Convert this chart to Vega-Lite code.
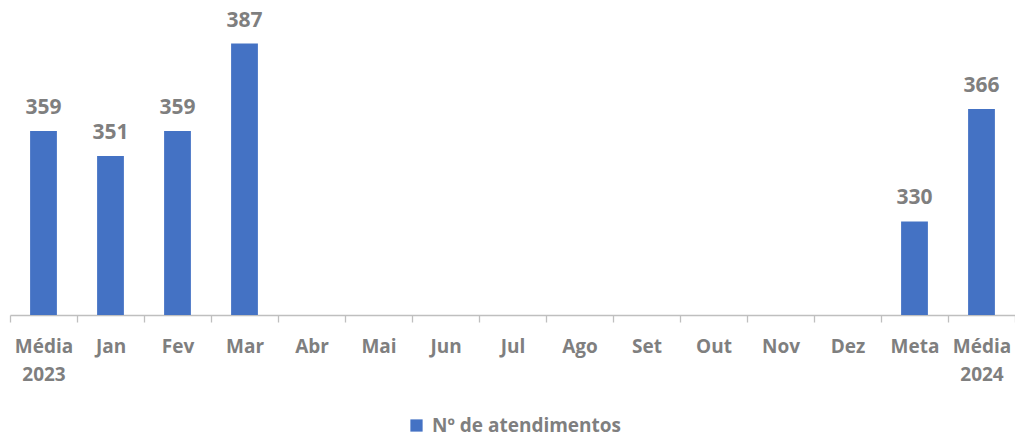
{
  "$schema": "https://vega.github.io/schema/vega-lite/v6.json",
  "width": 1005,
  "height": 312,
  "padding": {"left": 10, "top": 3, "right": 0, "bottom": 124},
  "autosize": {"type": "none"},
  "background": "white",
  "config": {"view": {"stroke": null}, "font": "Open Sans"},
  "data": {
    "values": [
      {"mes": "Média 2023", "valor": 359, "serie": "Nº de atendimentos"},
      {"mes": "Jan", "valor": 351, "serie": "Nº de atendimentos"},
      {"mes": "Fev", "valor": 359, "serie": "Nº de atendimentos"},
      {"mes": "Mar", "valor": 387, "serie": "Nº de atendimentos"},
      {"mes": "Abr", "valor": null, "serie": "Nº de atendimentos"},
      {"mes": "Mai", "valor": null, "serie": "Nº de atendimentos"},
      {"mes": "Jun", "valor": null, "serie": "Nº de atendimentos"},
      {"mes": "Jul", "valor": null, "serie": "Nº de atendimentos"},
      {"mes": "Ago", "valor": null, "serie": "Nº de atendimentos"},
      {"mes": "Set", "valor": null, "serie": "Nº de atendimentos"},
      {"mes": "Out", "valor": null, "serie": "Nº de atendimentos"},
      {"mes": "Nov", "valor": null, "serie": "Nº de atendimentos"},
      {"mes": "Dez", "valor": null, "serie": "Nº de atendimentos"},
      {"mes": "Meta", "valor": 330, "serie": "Nº de atendimentos"},
      {"mes": "Média 2024", "valor": 366, "serie": "Nº de atendimentos"}
    ]
  },
  "encoding": {
    "x": {
      "field": "mes",
      "type": "nominal",
      "sort": null,
      "scale": {
        "domain": ["Média 2023", "Jan", "Fev", "Mar", "Abr", "Mai", "Jun", "Jul", "Ago", "Set", "Out", "Nov", "Dez", "Meta", "Média 2024"],
        "paddingInner": 0,
        "paddingOuter": 0
      },
      "axis": {
        "title": null,
        "labelAngle": 0,
        "labelExpr": "split(datum.label, ' ')",
        "labelFont": "Open Sans",
        "labelFontSize": 19,
        "labelFontWeight": "bold",
        "labelColor": "#7f7f7f",
        "labelLineHeight": 28,
        "labelPadding": 15,
        "labelBaseline": "top",
        "domainColor": "#bfbfbf",
        "tickColor": "#bfbfbf",
        "tickSize": 7,
        "tickBand": "extent",
        "domainWidth": 1.3,
        "tickWidth": 1.3
      }
    },
    "y": {
      "field": "valor",
      "type": "quantitative",
      "scale": {"domain": [300, 400], "zero": false, "nice": false},
      "axis": null
    }
  },
  "layer": [
    {
      "mark": {"type": "bar", "color": "#4472c4", "width": {"band": 0.4}},
      "encoding": {
        "y2": {"datum": 300},
        "color": {
          "field": "serie",
          "type": "nominal",
          "scale": {"range": ["#4472c4"]},
          "legend": {
            "title": null,
            "orient": "none",
            "legendX": 397,
            "legendY": 413,
            "symbolType": "square",
            "symbolSize": 150,
            "symbolStrokeWidth": 0,
            "labelLimit": 400,
            "labelOffset": 6,
            "labelFont": "Open Sans",
            "labelFontSize": 19,
            "labelFontWeight": "bold",
            "labelColor": "#7f7f7f"
          }
        }
      }
    },
    {
      "mark": {
        "type": "text",
        "dy": -17,
        "baseline": "alphabetic",
        "font": "Open Sans",
        "fontSize": 21,
        "fontWeight": "bold",
        "color": "#7f7f7f"
      },
      "encoding": {"text": {"field": "valor", "type": "quantitative"}}
    }
  ]
}
